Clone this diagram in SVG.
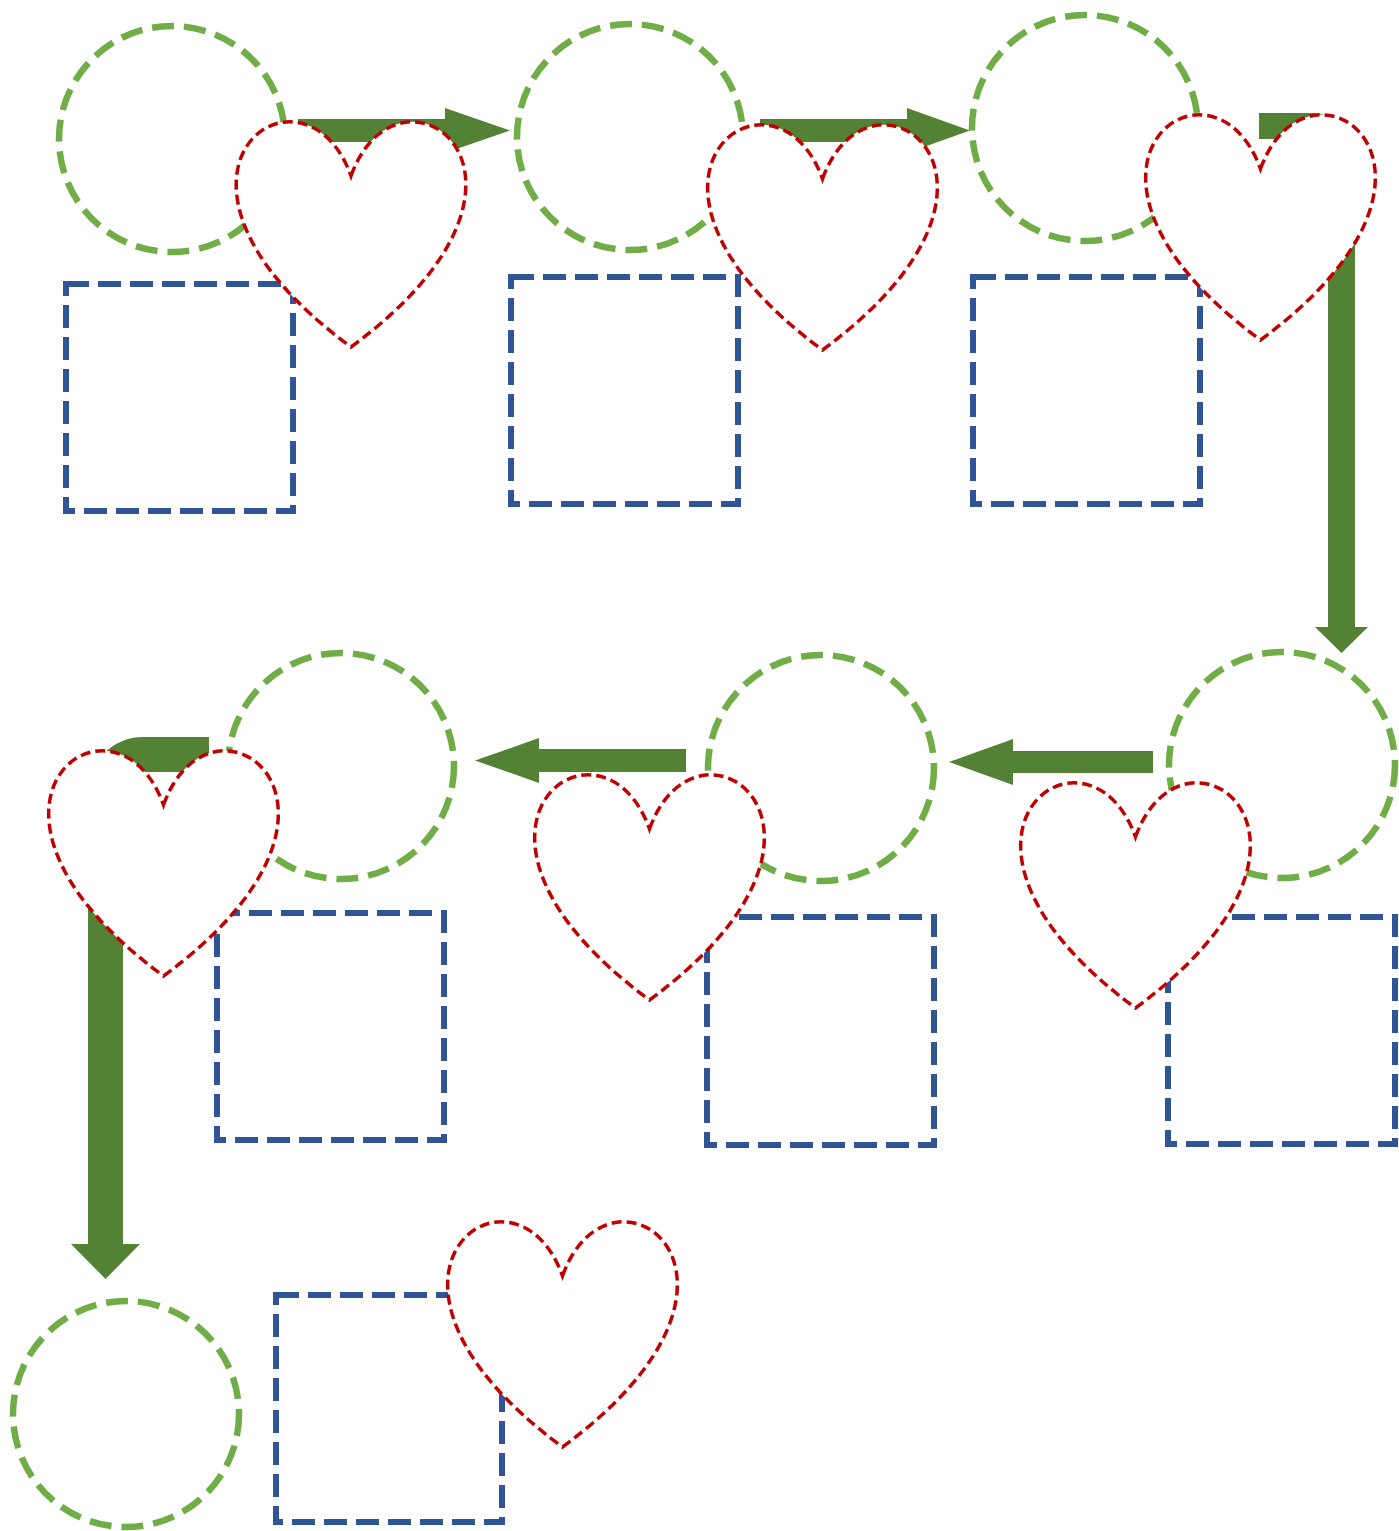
<svg xmlns="http://www.w3.org/2000/svg" xmlns:xlink="http://www.w3.org/1999/xlink" width="1399" height="1531" viewBox="0 0 1399 1531">
<style>
.circ{fill:none;stroke:#70AD47;stroke-width:6.5;stroke-dasharray:22 10}
.sq{fill:none;stroke:#2F5597;stroke-width:6;stroke-dasharray:23 9}
.heart{fill:#FFFFFF;stroke:#C00000;stroke-width:3.5;stroke-dasharray:10 5}
.arrow{fill:#548235;stroke:none}
</style>
<defs>
<path id="heartShape" d="M 0,57 C 47.5,-76 232.75,57 0,228 C -232.75,57 -47.5,-76 0,57 Z"/>
</defs>
<rect width="1399" height="1531" fill="#FFFFFF"/>
<g id="circles">
<g id="circle1"><circle class="circ" cx="172" cy="139" r="113"/></g>
<g id="circle2"><circle class="circ" cx="630" cy="137" r="113"/></g>
<g id="circle3"><circle class="circ" cx="1085" cy="128" r="113"/></g>
<g id="circle4"><circle class="circ" cx="1282" cy="765" r="113"/></g>
<g id="circle5"><circle class="circ" cx="821" cy="768" r="113"/></g>
<g id="circle6"><circle class="circ" cx="341" cy="766" r="113"/></g>
<g id="circle7"><circle class="circ" cx="126" cy="1414" r="113"/></g>
</g>
<g id="squares">
<g id="square1"><rect class="sq" x="66" y="284" width="227" height="227"/></g>
<g id="square2"><rect class="sq" x="511" y="277" width="227" height="227"/></g>
<g id="square3"><rect class="sq" x="973" y="277" width="227" height="227"/></g>
<g id="square4"><rect class="sq" x="1168" y="917" width="227" height="227"/></g>
<g id="square5"><rect class="sq" x="707" y="917" width="227" height="228"/></g>
<g id="square6"><rect class="sq" x="217" y="913" width="227" height="227"/></g>
<g id="square7"><rect class="sq" x="276" y="1295" width="226" height="227"/></g>
</g>
<g id="connectors">
<path class="arrow" d="M 298,119 L 445,119 L 445,108 L 510,130.5 L 445,153 L 445,142 L 298,142 Z"/>
<path class="arrow" d="M 760,119 L 907,119 L 907,108 L 970,130.5 L 907,153 L 907,142 L 760,142 Z"/>
<path class="arrow" d="M 1259,113 L 1312,113 A 43 43 0 0 1 1355,156 L 1355,627 L 1368,627 L 1341.5,653 L 1315,627 L 1328,627 L 1328,155 A 16 16 0 0 0 1312,139 L 1259,139 Z"/>
<path class="arrow" d="M 1153,751 L 1013,751 L 1013,739 L 949,762 L 1013,785 L 1013,773 L 1153,773 Z"/>
<path class="arrow" d="M 686,749 L 539,749 L 539,738 L 475,760.5 L 539,783 L 539,772 L 686,772 Z"/>
<path class="arrow" d="M 209,737 L 143,737 A 55 55 0 0 0 88,792 L 88,1244 L 71,1244 L 105.5,1279 L 140,1244 L 123,1244 L 123,792 A 20 20 0 0 1 143,772 L 209,772 Z"/>
</g>
<g id="hearts">
<g id="heart1"><use class="heart" xlink:href="#heartShape" href="#heartShape" transform="translate(351,119)"/></g>
<g id="heart2"><use class="heart" xlink:href="#heartShape" href="#heartShape" transform="translate(822.5,122)"/></g>
<g id="heart3"><use class="heart" xlink:href="#heartShape" href="#heartShape" transform="translate(1260.5,112)"/></g>
<g id="heart4"><use class="heart" xlink:href="#heartShape" href="#heartShape" transform="translate(1135.5,780)"/></g>
<g id="heart5"><use class="heart" xlink:href="#heartShape" href="#heartShape" transform="translate(649.5,772)"/></g>
<g id="heart6"><use class="heart" xlink:href="#heartShape" href="#heartShape" transform="translate(163.5,748)"/></g>
<g id="heart7"><use class="heart" xlink:href="#heartShape" href="#heartShape" transform="translate(562.5,1219)"/></g>
</g>
</svg>
